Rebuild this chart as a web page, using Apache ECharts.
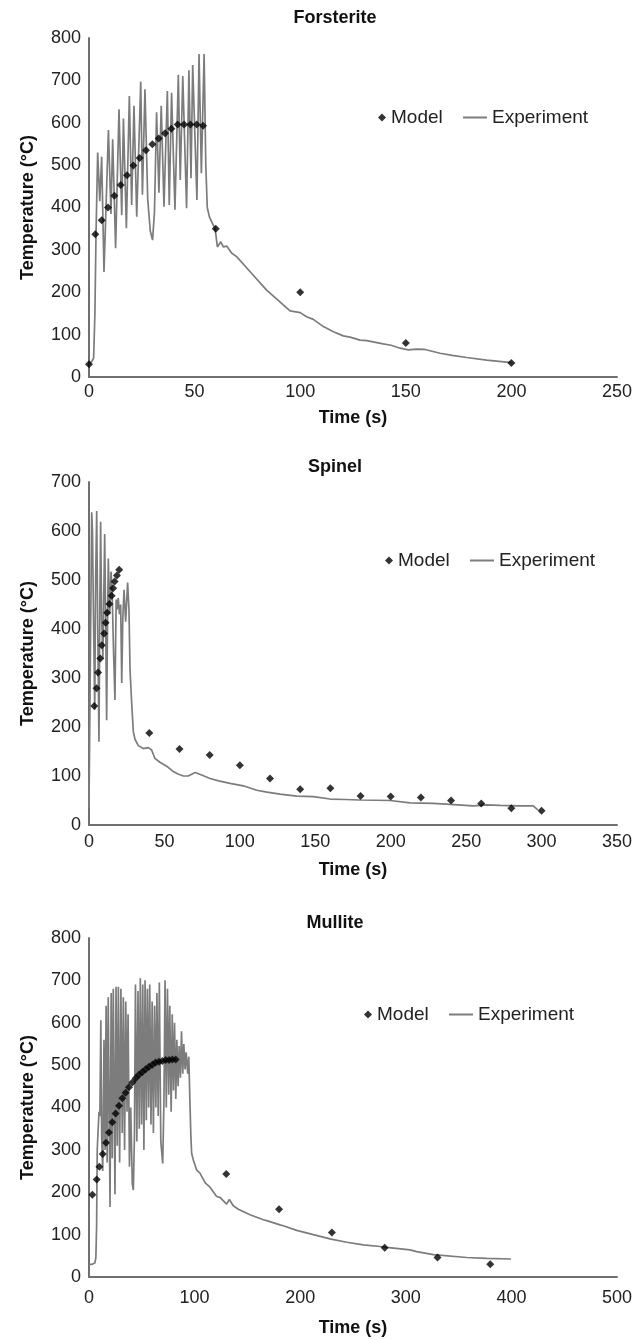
<!DOCTYPE html>
<html><head><meta charset="utf-8">
<script src="https://cdn.jsdelivr.net/npm/echarts@6/dist/echarts.min.js"></script>
<style>html,body{margin:0;padding:0;background:#fff}#c{width:644px;height:1340px}</style>
</head><body><div id="c"></div>
<script>
const chartTitles = ['Forsterite', 'Spinel', 'Mullite'];
const xMaxes = [250, 350, 500];
const xIntervals = [50, 50, 100];
const yMaxes = [800, 700, 800];

const forsteriteModelTime = [0,3,6,9,12,15,18,21,24,27,30,33,36,39,42,45,48,51,54,60,100,150,200];
const forsteriteModelTemp = [30,337,370,400,428,453,476,499,517,535,549,563,575,586,596,596,596,596,593,350,200,80,33];
const forsteriteExperiment = [[0,30],[1.5,38],[2.2,45],[2.8,150],[3.3,330],[4.1,530],[5.1,415],[6.0,520],[7.1,248],[9.2,583],[10.4,385],[11.2,561],[12.6,304],[14.2,632],[15.5,382],[16.3,610],[17.7,351],[19.1,663],[20.2,406],[21.3,640],[22.6,378],[24.5,697],[25.3,430],[26.5,679],[27.8,420],[29.0,345],[30.1,323],[31.0,390],[32.0,625],[33.1,435],[34.2,640],[35.5,402],[37.1,675],[38.0,406],[39.1,671],[40.7,395],[42.3,713],[43.2,465],[44.4,710],[46.2,398],[47.3,724],[48.3,469],[49.1,736],[51.1,418],[52.1,762],[53.2,481],[54.5,762],[55.3,500],[56.0,400],[57.0,378],[58.5,362],[59.7,350],[60.8,307],[62.4,319],[63.6,307],[65.2,309],[67.6,292],[69.9,284],[76.2,249],[84.1,205],[92,170],[95.2,156],[100,152],[103,142],[106.2,136],[111,119],[115.7,107],[120.4,97],[123.6,94],[128.3,87],[131.5,86],[139.3,78],[143,75],[147.3,68],[151.2,64],[155,66],[159.1,65],[166.2,56],[172,51],[178.8,46],[188.3,40],[200,34]];

const spinelModelTime = [3.5,5,6,7.5,8.5,10,11,12,13.5,15,16,17,18.5,20,40,60,80,100,120,140,160,180,200,220,240,260,280,300];
const spinelModelTemp = [243,279,311,340,367,391,413,433,451,468,483,497,509,521,188,155,143,122,95,73,75,59,58,56,50,44,34,29];
const spinelExperiment = [[0,35],[1.3,35],[1.8,638],[2.3,600],[3,420],[3.8,235],[4.4,500],[5.1,641],[5.8,400],[6.6,170],[7.2,450],[7.7,619],[8.4,420],[9.2,340],[10.4,594],[11.1,400],[11.7,214],[12.3,420],[12.8,544],[13.7,430],[14.6,517],[15.3,480],[16.3,350],[17.2,255],[18,460],[18.7,440],[19.4,463],[20.2,430],[21,450],[21.7,290],[22.4,420],[23.2,480],[24.3,415],[25.6,495],[26.5,440],[27.2,316],[28.3,248],[29.4,190],[30.5,175],[32.7,162],[36,156],[39.3,158],[41.5,153],[43.7,136],[47,128],[51.5,120],[55.9,109],[59,104],[62.5,100],[65.8,100],[70.3,107],[74.7,102],[80.2,95],[86,90],[93.5,85],[102.3,80],[111.2,71],[118,67],[126.6,63],[137.7,59],[148.7,58],[159.8,53],[170,52],[179.6,51],[199.5,50],[212.8,45],[228.2,44],[239.3,42],[254.7,39],[263.6,41],[272.5,40],[285,39],[294.5,39],[297.5,31]];

const mulliteModelTime = [3.2,7.3,9.8,13,16.1,18.9,22.1,25.2,28.4,31.6,34.7,37.9,41,44.2,47.3,50.5,53.7,56.8,60,63.1,66.3,69.4,72.6,75.8,78.9,82.1,130,180,230,280,330,380];
const mulliteModelTemp = [194,230,260,290,317,341,365,386,404,422,435,448,459,469,477,484,490,496,501,506,508,510,512,512,513,513,243,160,105,69,46,30];
const mulliteExperiment = [[0,30],[3,30],[5.5,33],[6.5,45],[7.2,120],[7.8,300],[8.5,340],[9.5,390],[10.3,380],[11.2,606],[12,330],[13,250],[14.2,560],[15.2,300],[16.2,640],[17.2,270],[18.2,660],[19.9,165],[21,670],[22,280],[23,680],[24.6,195],[25.6,685],[26.8,310],[27.8,685],[29,270],[30.2,680],[31.5,340],[32.5,660],[33.7,300],[34.8,650],[36,390],[37,620],[38.3,260],[39.5,400],[41,220],[42,205],[43,330],[44,690],[45.3,320],[46.4,675],[47.6,350],[48.6,705],[49.8,360],[50.9,690],[52,300],[53.1,700],[54.3,370],[55.3,680],[56.5,400],[57.5,690],[58.7,360],[59.8,650],[61,340],[62.1,640],[63.3,400],[64.3,670],[65.5,380],[66.6,695],[68,320],[69.8,268],[71,420],[72,700],[73.2,400],[74.3,680],[75.5,430],[76.5,640],[77.8,390],[78.8,620],[80,440],[81,600],[82.2,420],[83.2,560],[84.4,450],[85.4,545],[86.6,470],[87.6,580],[88.8,480],[89.8,550],[91,490],[92,530],[93.5,480],[94.5,520],[95.5,420],[96.5,330],[97.2,292],[98.8,276],[102,252],[105.1,245],[110,222],[114.6,212],[120.9,190],[124,188],[128,178],[130.4,172],[131,168],[132.9,183],[136.6,168],[141.4,160],[152.5,147],[165.1,135],[168.3,133],[180.9,123],[184,121],[196.7,110],[212.4,100],[228.2,90],[244,82],[259.8,76],[275.6,72],[281.9,70],[304,64],[310.3,60],[326.1,53],[357.6,46],[376.6,44],[399.6,42.5]];

const FONT = "'Liberation Sans', Arial, sans-serif";
const grids = [
  {left: 89, top: 38, width: 528, height: 339},
  {left: 89, top: 482, width: 528, height: 343},
  {left: 89, top: 938, width: 528, height: 339}
];
const titleTops = [9, 458, 914];
const legendTops = [108, 551, 1005];
const modelLegendLeft = [378, 385, 364];
const expLegendLeft = [463, 470, 449];
const xLabelMargin = [6, 8, 12];
const xNameGap = [32, 36, 42];

const models = [
  forsteriteModelTime.map((t, i) => [t, forsteriteModelTemp[i]]),
  spinelModelTime.map((t, i) => [t, spinelModelTemp[i]]),
  mulliteModelTime.map((t, i) => [t, mulliteModelTemp[i]])
];
const experiments = [forsteriteExperiment, spinelExperiment, mulliteExperiment];

const axisLineStyle = {show: true, onZero: false, lineStyle: {color: '#707070', width: 2}};
const option = {
  animation: false,
  backgroundColor: '#fff',
  textStyle: {fontFamily: FONT},
  title: chartTitles.map((t, i) => ({
    text: t, left: 335, top: titleTops[i], textAlign: 'center', padding: 0,
    textStyle: {fontFamily: FONT, fontSize: 18, fontWeight: 'bold', color: '#111'}
  })),
  legend: [0, 1, 2].flatMap(i => [
    {data: [{name: 'Model', icon: 'diamond'}], left: modelLegendLeft[i], top: legendTops[i], padding: 0,
     itemWidth: 8, itemHeight: 8, itemGap: 5, selectedMode: false,
     textStyle: {fontFamily: FONT, fontSize: 19, color: '#222'}},
    {data: [{name: 'Experiment', icon: 'rect'}], left: expLegendLeft[i], top: legendTops[i], padding: 0,
     itemWidth: 24, itemHeight: 2, selectedMode: false,
     textStyle: {fontFamily: FONT, fontSize: 19, color: '#222'}}
  ]),
  grid: grids,
  xAxis: [0, 1, 2].map(i => ({
    type: 'value', gridIndex: i, min: 0, max: xMaxes[i], interval: xIntervals[i],
    name: 'Time (s)', nameLocation: 'middle', nameGap: xNameGap[i],
    nameTextStyle: {fontFamily: FONT, fontSize: 18, fontWeight: 'bold', color: '#111'},
    axisLine: axisLineStyle, axisTick: {show: false}, splitLine: {show: false},
    axisLabel: {fontFamily: FONT, fontSize: 18, color: '#222', margin: xLabelMargin[i]}
  })),
  yAxis: [0, 1, 2].map(i => ({
    type: 'value', gridIndex: i, min: 0, max: yMaxes[i], interval: 100,
    name: 'Temperature (°C)', nameLocation: 'middle', nameGap: 52,
    nameTextStyle: {fontFamily: FONT, fontSize: 18, fontWeight: 'bold', color: '#111'},
    axisLine: axisLineStyle, axisTick: {show: false}, splitLine: {show: false},
    axisLabel: {fontFamily: FONT, fontSize: 18, color: '#222', margin: 8}
  })),
  series: [0, 1, 2].flatMap(i => [
    {name: 'Experiment', type: 'line', xAxisIndex: i, yAxisIndex: i, data: experiments[i],
     showSymbol: false, symbol: 'none', lineStyle: {color: '#7c7c7c', width: 1.7}, itemStyle: {color: '#7c7c7c'}, z: 2},
    {name: 'Model', type: 'scatter', xAxisIndex: i, yAxisIndex: i, data: models[i],
     symbol: 'diamond', symbolSize: 8, itemStyle: {color: '#000'}, z: 3}
  ])
};
const chart = echarts.init(document.getElementById('c'), null, {renderer: 'canvas'});
chart.setOption(option);
</script>
</body></html>
